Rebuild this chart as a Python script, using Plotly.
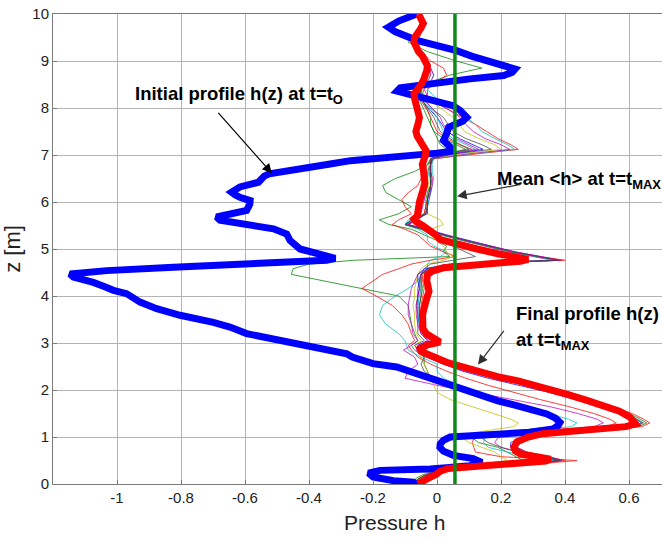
import plotly.graph_objects as go

# ---------------- data ----------------
# initial profile h(z) at t = t0 (thick blue)
z_init = [10.0, 9.85, 9.72, 9.62, 9.44, 9.3, 9.22, 9.1, 9.01, 8.9, 8.83, 8.76, 8.69, 8.62, 8.53, 8.43,
          8.36, 8.27, 8.16, 8.05, 7.95, 7.8, 7.72, 7.66, 7.59, 7.45, 7.31, 7.17, 7.08, 7.04, 7.0, 6.95,
          6.88, 6.81, 6.75, 6.67, 6.6, 6.55, 6.49, 6.42, 6.32, 6.21, 6.15, 6.1, 6.03, 5.95, 5.82, 5.75,
          5.68, 5.61, 5.54, 5.49, 5.43, 5.32, 5.25, 5.18, 5.0, 4.9, 4.83, 4.8, 4.76, 4.72, 4.68, 4.61,
          4.54, 4.5, 4.47, 4.4, 4.34, 4.29, 4.2, 4.12, 4.05, 3.95, 3.87, 3.73, 3.59, 3.44, 3.34, 3.2,
          3.05, 2.95, 2.84, 2.77, 2.7, 2.66, 2.56, 2.49, 2.38, 2.27, 2.13, 2.0, 1.88, 1.77, 1.67, 1.58,
          1.49, 1.4, 1.31, 1.24, 1.17, 1.1, 1.05, 1.03, 1.0, 0.93, 0.85, 0.78, 0.7, 0.61, 0.54, 0.46,
          0.39, 0.34, 0.32, 0.29, 0.23, 0.15, 0.07, 0.04, 0.0]
h_init = [-0.063, -0.12, -0.152, -0.13, -0.063, 0.02, 0.061, 0.11, 0.15, 0.21, 0.244, 0.235, 0.208, 0.103, -0.02, -0.115,
          -0.125, -0.074, 0.009, 0.05, 0.072, 0.093, 0.08, 0.062, 0.036, 0.03, 0.02, 0.041, 0.047, 0.0, -0.08, -0.18,
          -0.27, -0.334, -0.40, -0.46, -0.524, -0.54, -0.55, -0.558, -0.616, -0.642, -0.63, -0.616, -0.584, -0.585, -0.595, -0.636,
          -0.689, -0.678, -0.616, -0.56, -0.511, -0.47, -0.465, -0.459, -0.428, -0.366, -0.325, -0.318, -0.345, -0.45, -0.616, -0.824,
          -1.032, -1.12, -1.147, -1.136, -1.1, -1.074, -1.04, -1.011, -0.97, -0.945, -0.928, -0.876, -0.803, -0.699, -0.647, -0.595,
          -0.491, -0.407, -0.334, -0.282, -0.265, -0.24, -0.2, -0.126, -0.08, -0.032, 0.031, 0.085, 0.134, 0.19, 0.249, 0.3,
          0.343, 0.37, 0.384, 0.378, 0.363, 0.29, 0.18, 0.134, 0.041, 0.02, 0.01, 0.009, 0.02, 0.051, 0.113, 0.14,
          0.103, 0.02, -0.022, -0.178, -0.214, -0.2, -0.136, -0.074, -0.06]

# final profile h(z) at t = tMAX (thick red)
z_final = [10.0, 9.9, 9.8, 9.7, 9.6, 9.5, 9.4, 9.3, 9.2, 9.1, 9.0, 8.9, 8.8, 8.7, 8.6, 8.5, 8.4, 8.3, 8.2, 8.1,
           8.0, 7.9, 7.8, 7.7, 7.6, 7.5, 7.4, 7.3, 7.2, 7.1, 7.0, 6.9, 6.8, 6.7, 6.6, 6.5, 6.4, 6.3, 6.2, 6.1,
           6.0, 5.9, 5.8, 5.7, 5.64, 5.58, 5.5, 5.4, 5.3, 5.2, 5.11, 5.0, 4.9, 4.82, 4.78, 4.74, 4.7, 4.66, 4.6, 4.53,
           4.45, 4.33, 4.2, 4.1, 4.0, 3.9, 3.75, 3.6, 3.45, 3.3, 3.19, 3.1, 3.02, 2.96, 2.88, 2.82, 2.74, 2.66, 2.59, 2.53,
           2.45, 2.35, 2.27, 2.2, 2.1, 2.0, 1.9, 1.78, 1.65, 1.55, 1.42, 1.33, 1.28, 1.22, 1.17, 1.12, 1.07, 1.0, 0.9, 0.78,
           0.7, 0.64, 0.58, 0.53, 0.49, 0.45, 0.41, 0.37, 0.33, 0.27, 0.2, 0.13, 0.06, 0.0]
h_final = [-0.058, -0.05, -0.043, -0.05, -0.06, -0.07, -0.072, -0.066, -0.058, -0.045, -0.035, -0.03, -0.032, -0.036, -0.042, -0.05, -0.062, -0.072, -0.07, -0.065,
           -0.06, -0.056, -0.055, -0.058, -0.062, -0.066, -0.062, -0.055, -0.044, -0.035, -0.036, -0.043, -0.046, -0.043, -0.04, -0.038, -0.038, -0.042, -0.048, -0.053,
           -0.055, -0.057, -0.058, -0.062, -0.072, -0.065, -0.045, -0.022, -0.004, 0.01, 0.056, 0.125, 0.19, 0.255, 0.285, 0.26, 0.18, 0.09, 0.02, -0.015,
           -0.03, -0.032, -0.025, -0.025, -0.03, -0.036, -0.04, -0.045, -0.046, -0.044, -0.032, -0.012, 0.009, -0.03, -0.053, -0.05, -0.025, -0.001, 0.03, 0.06,
           0.1, 0.15, 0.197, 0.25, 0.31, 0.36, 0.41, 0.468, 0.53, 0.57, 0.603, 0.619, 0.62, 0.59, 0.52, 0.42, 0.33, 0.285, 0.25, 0.24,
           0.245, 0.26, 0.31, 0.355, 0.34, 0.27, 0.17, 0.08, 0.035, 0.01, -0.003, -0.025, -0.05, -0.06]

# intermediate profiles (thin lines), all sampled on the same z grid
z_mid = [10.0, 9.8, 9.6, 9.4, 9.2, 9.0, 8.85, 8.7, 8.55, 8.4, 8.25, 8.1,
         7.95, 7.8, 7.65, 7.5, 7.35, 7.22, 7.12, 7.02, 6.92, 6.8, 6.65, 6.5,
         6.35, 6.2, 6.05, 5.9, 5.75, 5.62, 5.52, 5.42, 5.3, 5.18, 5.06, 4.94,
         4.84, 4.76, 4.68, 4.58, 4.46, 4.32, 4.16, 4.0, 3.8, 3.6, 3.4, 3.2,
         3.05, 2.95, 2.85, 2.7, 2.55, 2.4, 2.25, 2.1, 1.95, 1.8, 1.65, 1.5,
         1.38, 1.3, 1.22, 1.14, 1.06, 0.98, 0.88, 0.78, 0.68, 0.58, 0.5, 0.42,
         0.34, 0.26, 0.18, 0.1, 0.0]

h_mid_1 = [-0.05, -0.04, -0.06, -0.09, -0.03, 0.06, 0.14, 0.04, -0.02, -0.04, -0.05, -0.04,
           -0.03, -0.02, -0.02, -0.01, 0.0, 0.01, 0.03, 0.0, -0.02, -0.03, -0.07, -0.13,
           -0.17, -0.16, -0.12, -0.08, -0.12, -0.18, -0.15, -0.08, -0.04, 0.0, 0.03, 0.02,
           0.04, -0.26, -0.40, -0.45, -0.455, -0.35, -0.24, -0.12, -0.09, -0.085, -0.08, -0.07,
           -0.06, -0.08, -0.07, -0.04, -0.04, -0.03, -0.02, 0.02, 0.09, 0.16, 0.24, 0.32,
           0.37, 0.385, 0.36, 0.26, 0.15, 0.11, 0.13, 0.19, 0.22, 0.25, 0.27, 0.2,
           0.06, -0.02, -0.05, -0.07, -0.08]
h_mid_2 = [-0.05, -0.04, -0.055, -0.065, -0.05, -0.02, 0.02, 0.03, 0.0, -0.03, -0.03, 0.0,
           0.04, 0.08, 0.12, 0.155, 0.19, 0.23, 0.254, 0.12, -0.01, -0.03, -0.04, -0.05,
           -0.06, -0.09, -0.11, -0.10, -0.08, -0.12, -0.14, -0.10, -0.06, -0.04, -0.02, 0.02,
           0.06, -0.02, -0.08, -0.12, -0.17, -0.2, -0.235, -0.19, -0.14, -0.11, -0.09, -0.08,
           -0.07, -0.09, -0.08, -0.06, -0.02, 0.03, 0.09, 0.16, 0.24, 0.32, 0.41, 0.49,
           0.54, 0.56, 0.53, 0.35, 0.16, 0.115, 0.11, 0.115, 0.12, 0.2, 0.437, 0.3,
           0.08, 0.0, -0.04, -0.06, -0.07]
h_mid_3 = [-0.05, -0.04, -0.05, -0.06, -0.05, -0.03, -0.02, -0.011, -0.02, -0.03, -0.01, 0.02,
           0.06, 0.093, 0.12, 0.14, 0.18, 0.22, 0.243, 0.10, -0.01, -0.02, -0.025, -0.03,
           -0.03, -0.035, -0.04, -0.05, -0.06, -0.09, -0.10, -0.06, -0.03, -0.03, -0.01, 0.03,
           0.01, -0.02, -0.03, -0.03, -0.05, -0.06, -0.09, -0.13, -0.17, -0.18, -0.16, -0.12,
           -0.10, -0.095, -0.09, -0.05, 0.0, 0.0, 0.02, 0.07, 0.12, 0.19, 0.27, 0.35,
           0.41, 0.437, 0.42, 0.3, 0.18, 0.15, 0.145, 0.16, 0.22, 0.3, 0.37, 0.26,
           0.05, -0.01, -0.04, -0.06, -0.07]
h_mid_4 = [-0.05, -0.04, -0.055, -0.065, -0.055, -0.03, -0.02, -0.01, -0.02, -0.04, -0.03, 0.0,
           0.04, 0.072, 0.09, 0.113, 0.15, 0.2, 0.227, 0.09, -0.01, -0.02, -0.03, -0.03,
           -0.03, -0.035, -0.04, -0.045, -0.05, -0.07, -0.10, -0.04, 0.02, 0.08, 0.15, 0.22,
           0.30, 0.36, 0.06, -0.03, -0.06, -0.07, -0.08, -0.085, -0.09, -0.09, -0.08, -0.075,
           -0.06, -0.08, -0.105, -0.07, -0.06, -0.09, -0.10, 0.0, 0.12, 0.24, 0.35, 0.44,
           0.5, 0.52, 0.49, 0.34, 0.22, 0.19, 0.18, 0.2, 0.26, 0.33, 0.38, 0.27,
           0.06, -0.01, -0.04, -0.06, -0.07]
h_mid_5 = [-0.05, -0.04, -0.05, -0.06, -0.05, -0.03, -0.02, -0.02, -0.03, -0.045, -0.04, -0.01,
           0.02, 0.05, 0.07, 0.086, 0.13, 0.18, 0.2, 0.07, -0.01, -0.02, -0.02, -0.025,
           -0.025, -0.03, -0.03, -0.035, -0.03, 0.01, 0.02, -0.02, -0.02, 0.0, 0.02, 0.03,
           0.05, 0.02, -0.03, -0.05, -0.06, -0.065, -0.07, -0.07, -0.075, -0.07, -0.07, -0.065,
           -0.05, -0.07, -0.06, -0.05, -0.04, -0.03, -0.02, -0.01, 0.0, 0.04, 0.11, 0.18,
           0.23, 0.254, 0.24, 0.16, 0.09, 0.08, 0.1, 0.14, 0.18, 0.2, 0.22, 0.14,
           0.03, -0.02, -0.05, -0.06, -0.07]
h_mid_6 = [-0.05, -0.04, -0.055, -0.065, -0.055, -0.03, -0.025, -0.03, -0.035, -0.05, -0.05, -0.03,
           -0.01, 0.02, 0.035, 0.05, 0.09, 0.14, 0.17, 0.05, -0.015, -0.02, -0.02, -0.02,
           -0.02, -0.025, -0.03, -0.03, -0.035, -0.06, -0.09, -0.05, -0.02, 0.01, 0.05, 0.09,
           0.12, 0.05, -0.02, -0.04, -0.05, -0.055, -0.06, -0.06, -0.065, -0.06, -0.06, -0.06,
           -0.04, -0.07, -0.06, -0.04, -0.05, -0.04, -0.01, 0.04, 0.1, 0.17, 0.25, 0.32,
           0.37, 0.39, 0.37, 0.27, 0.17, 0.14, 0.16, 0.2, 0.25, 0.3, 0.33, 0.23,
           0.05, -0.01, -0.04, -0.06, -0.07]
h_mid_7 = [-0.05, -0.04, -0.055, -0.065, -0.055, -0.03, -0.025, -0.03, -0.04, -0.055, -0.055, -0.04,
           -0.02, 0.0, 0.015, 0.03, 0.07, 0.11, 0.144, 0.04, -0.015, -0.02, -0.02, -0.02,
           -0.02, -0.02, -0.025, -0.03, -0.03, -0.07, -0.09, -0.03, 0.03, 0.1, 0.17, 0.24,
           0.32, 0.38, 0.04, -0.04, -0.06, -0.06, -0.055, -0.06, -0.06, -0.06, -0.055, -0.05,
           -0.03, -0.06, -0.05, -0.03, 0.02, 0.08, 0.16, 0.26, 0.35, 0.43, 0.51, 0.58,
           0.62, 0.64, 0.61, 0.47, 0.32, 0.26, 0.23, 0.23, 0.27, 0.34, 0.39, 0.27,
           0.06, 0.0, -0.03, -0.05, -0.07]
h_mid_8 = [-0.055, -0.045, -0.06, -0.07, -0.06, -0.035, -0.03, -0.03, -0.04, -0.055, -0.06, -0.05,
           -0.04, -0.03, -0.02, -0.01, 0.02, 0.06, 0.09, 0.02, -0.02, -0.025, -0.025, -0.02,
           -0.02, -0.03, -0.035, -0.035, -0.04, -0.08, -0.1, -0.05, 0.01, 0.08, 0.16, 0.23,
           0.31, 0.39, 0.05, -0.03, -0.05, -0.05, -0.045, -0.05, -0.055, -0.055, -0.05, -0.04,
           -0.01, -0.05, -0.055, -0.02, 0.05, 0.12, 0.21, 0.31, 0.39, 0.47, 0.54, 0.6,
           0.635, 0.655, 0.63, 0.49, 0.34, 0.28, 0.255, 0.245, 0.275, 0.34, 0.385, 0.27,
           0.06, 0.0, -0.03, -0.05, -0.065]
h_mid_9 = [-0.055, -0.045, -0.06, -0.07, -0.06, -0.03, -0.025, -0.03, -0.04, -0.055, -0.06, -0.045,
           -0.03, -0.02, -0.01, 0.0, 0.03, 0.07, 0.11, 0.03, -0.02, -0.02, -0.02, -0.015,
           -0.02, -0.025, -0.03, -0.035, -0.04, -0.07, -0.09, -0.04, 0.02, 0.09, 0.17, 0.24,
           0.32, 0.40, 0.06, -0.02, -0.045, -0.045, -0.04, -0.045, -0.05, -0.05, -0.045, -0.035,
           0.0, -0.045, -0.05, -0.01, 0.06, 0.13, 0.22, 0.32, 0.4, 0.48, 0.55, 0.61,
           0.645, 0.665, 0.64, 0.5, 0.35, 0.29, 0.26, 0.25, 0.28, 0.35, 0.4, 0.28,
           0.07, 0.01, -0.02, -0.05, -0.06]
h_mid_10 = [-0.05, -0.04, -0.055, -0.065, -0.055, -0.03, -0.025, -0.025, -0.035, -0.05, -0.05, -0.035,
            -0.015, 0.0, 0.01, 0.02, 0.05, 0.09, 0.12, 0.03, -0.015, -0.015, -0.015, -0.01,
            -0.015, -0.02, -0.025, -0.03, -0.035, -0.075, -0.1, -0.045, 0.015, 0.085, 0.16, 0.235,
            0.31, 0.37, 0.05, -0.02, -0.05, -0.05, -0.05, -0.055, -0.06, -0.06, -0.055, -0.045,
            -0.02, -0.055, -0.06, -0.03, 0.03, 0.1, 0.19, 0.29, 0.37, 0.45, 0.52, 0.58,
            0.62, 0.64, 0.615, 0.48, 0.33, 0.27, 0.245, 0.24, 0.27, 0.34, 0.39, 0.27,
            0.06, 0.0, -0.03, -0.05, -0.065]
h_mid_11 = [-0.05, -0.04, -0.055, -0.065, -0.055, -0.03, -0.02, -0.02, -0.03, -0.05, -0.05, -0.03,
            -0.01, 0.01, 0.02, 0.035, 0.06, 0.1, 0.13, 0.04, -0.015, -0.02, -0.02, -0.015,
            -0.015, -0.02, -0.03, -0.03, -0.035, -0.07, -0.095, -0.035, 0.025, 0.095, 0.17, 0.245,
            0.325, 0.385, 0.05, -0.025, -0.05, -0.055, -0.055, -0.06, -0.065, -0.065, -0.06, -0.05,
            -0.025, -0.06, -0.065, -0.035, 0.02, 0.09, 0.18, 0.28, 0.36, 0.44, 0.51, 0.57,
            0.61, 0.63, 0.6, 0.47, 0.33, 0.28, 0.26, 0.25, 0.28, 0.35, 0.39, 0.27,
            0.06, 0.0, -0.03, -0.05, -0.065]
h_mid_12 = [-0.05, -0.04, -0.055, -0.065, -0.055, -0.03, -0.025, -0.03, -0.04, -0.05, -0.055, -0.04,
            -0.025, -0.01, 0.0, 0.01, 0.04, 0.075, 0.1, 0.02, -0.02, -0.02, -0.02, -0.02,
            -0.02, -0.025, -0.03, -0.03, -0.035, -0.08, -0.1, -0.04, 0.02, 0.09, 0.16, 0.235,
            0.315, 0.375, 0.05, -0.025, -0.05, -0.05, -0.05, -0.05, -0.055, -0.055, -0.05, -0.04,
            -0.015, -0.05, -0.055, -0.025, 0.04, 0.11, 0.2, 0.3, 0.38, 0.46, 0.53, 0.59,
            0.625, 0.645, 0.62, 0.48, 0.34, 0.28, 0.25, 0.245, 0.27, 0.34, 0.385, 0.27,
            0.06, 0.0, -0.03, -0.05, -0.065]

h_mid = [h_mid_1, h_mid_2, h_mid_3, h_mid_4, h_mid_5, h_mid_6,
         h_mid_7, h_mid_8, h_mid_9, h_mid_10, h_mid_11, h_mid_12]
mid_colors = ["#008000", "#ff0000", "#00bfbf", "#bf00bf", "#bfbf00", "#404040",
              "#0000ff", "#008000", "#ff0000", "#00bfbf", "#bf00bf", "#404040"]

# mean <h> at t = tMAX
h_mean = 0.056

x_ticks = [-1, -0.8, -0.6, -0.4, -0.2, 0, 0.2, 0.4, 0.6]
x_tick_text = ["-1", "-0.8", "-0.6", "-0.4", "-0.2", "0", "0.2", "0.4", "0.6"]
y_ticks = [0, 1, 2, 3, 4, 5, 6, 7, 8, 9, 10]

# ---------------- figure ----------------
fig = go.Figure()

for h, c in zip(h_mid, mid_colors):
    fig.add_trace(go.Scatter(x=h, y=z_mid, mode="lines",
                             line=dict(color=c, width=1), opacity=0.75,
                             hoverinfo="skip", showlegend=False))

fig.add_trace(go.Scatter(x=h_init, y=z_init, mode="lines",
                         line=dict(color="#0000ff", width=7),
                         showlegend=False))
fig.add_trace(go.Scatter(x=h_final, y=z_final, mode="lines",
                         line=dict(color="#ff0000", width=7),
                         showlegend=False))
fig.add_trace(go.Scatter(x=[h_mean, h_mean], y=[0, 10], mode="lines",
                         line=dict(color="#0e8a1c", width=3.5),
                         showlegend=False))

font_family = "Liberation Sans, Arial, sans-serif"
label_font = dict(family=font_family, size=18.5, color="black")
arrow_kw = dict(xref="x", yref="y", axref="x", ayref="y", text="", showarrow=True,
                arrowhead=2, arrowsize=1.6, arrowwidth=1.2)

fig.add_annotation(x=-0.62, y=8.28, text="<b>Initial profile h(z) at t=t<sub>O</sub></b>",
                   showarrow=False, xanchor="center", yanchor="middle", font=label_font)
fig.add_annotation(x=-0.516, y=6.61, ax=-0.6875, ay=7.93, arrowcolor="black", **arrow_kw)

fig.add_annotation(x=0.181, y=6.46, text="<b>Mean &lt;h&gt; at t=t<sub>MAX</sub></b>",
                   showarrow=False, xanchor="left", yanchor="middle", font=label_font)
fig.add_annotation(x=0.0625, y=6.12, ax=0.266, ay=6.38, arrowcolor="#303030", **arrow_kw)

fig.add_annotation(x=0.24, y=3.62, text="<b>Final profile h(z)</b>",
                   showarrow=False, xanchor="left", yanchor="middle", font=label_font)
fig.add_annotation(x=0.24, y=3.05, text="<b>at t=t<sub>MAX</sub></b>",
                   showarrow=False, xanchor="left", yanchor="middle", font=label_font)
fig.add_annotation(x=0.128, y=2.54, ax=0.2125, ay=3.29, arrowcolor="#303030", **arrow_kw)

# x-axis title sits at the centre of the full (wider) axes box
fig.add_annotation(xref="paper", yref="paper", x=0.5616, y=-0.081,
                   text="Pressure h", showarrow=False, xanchor="center", yanchor="middle",
                   font=dict(family=font_family, size=21, color="#222222"))

axis_font = dict(family=font_family, size=15, color="#222222")

fig.update_layout(
    width=662, height=541,
    margin=dict(l=53, r=0, t=14, b=57),
    paper_bgcolor="white", plot_bgcolor="white",
    showlegend=False,
    xaxis=dict(range=[-1.2, 0.703], tickvals=x_ticks, ticktext=x_tick_text,
               showgrid=True, gridcolor="#b4b4b4", gridwidth=1, zeroline=False,
               showline=True, linecolor="#7a7a7a", linewidth=1, mirror=True,
               ticks="inside", ticklen=4, tickcolor="#7a7a7a",
               tickfont=axis_font),
    yaxis=dict(range=[0, 10], tickvals=y_ticks,
               showgrid=True, gridcolor="#b4b4b4", gridwidth=1, zeroline=False,
               showline=True, linecolor="#7a7a7a", linewidth=1,
               ticks="inside", ticklen=4, tickcolor="#7a7a7a",
               tickfont=axis_font,
               title=dict(text="z [m]", font=dict(family=font_family, size=22, color="#222222"),
                          standoff=6)),
)

fig.write_html("out.html")
